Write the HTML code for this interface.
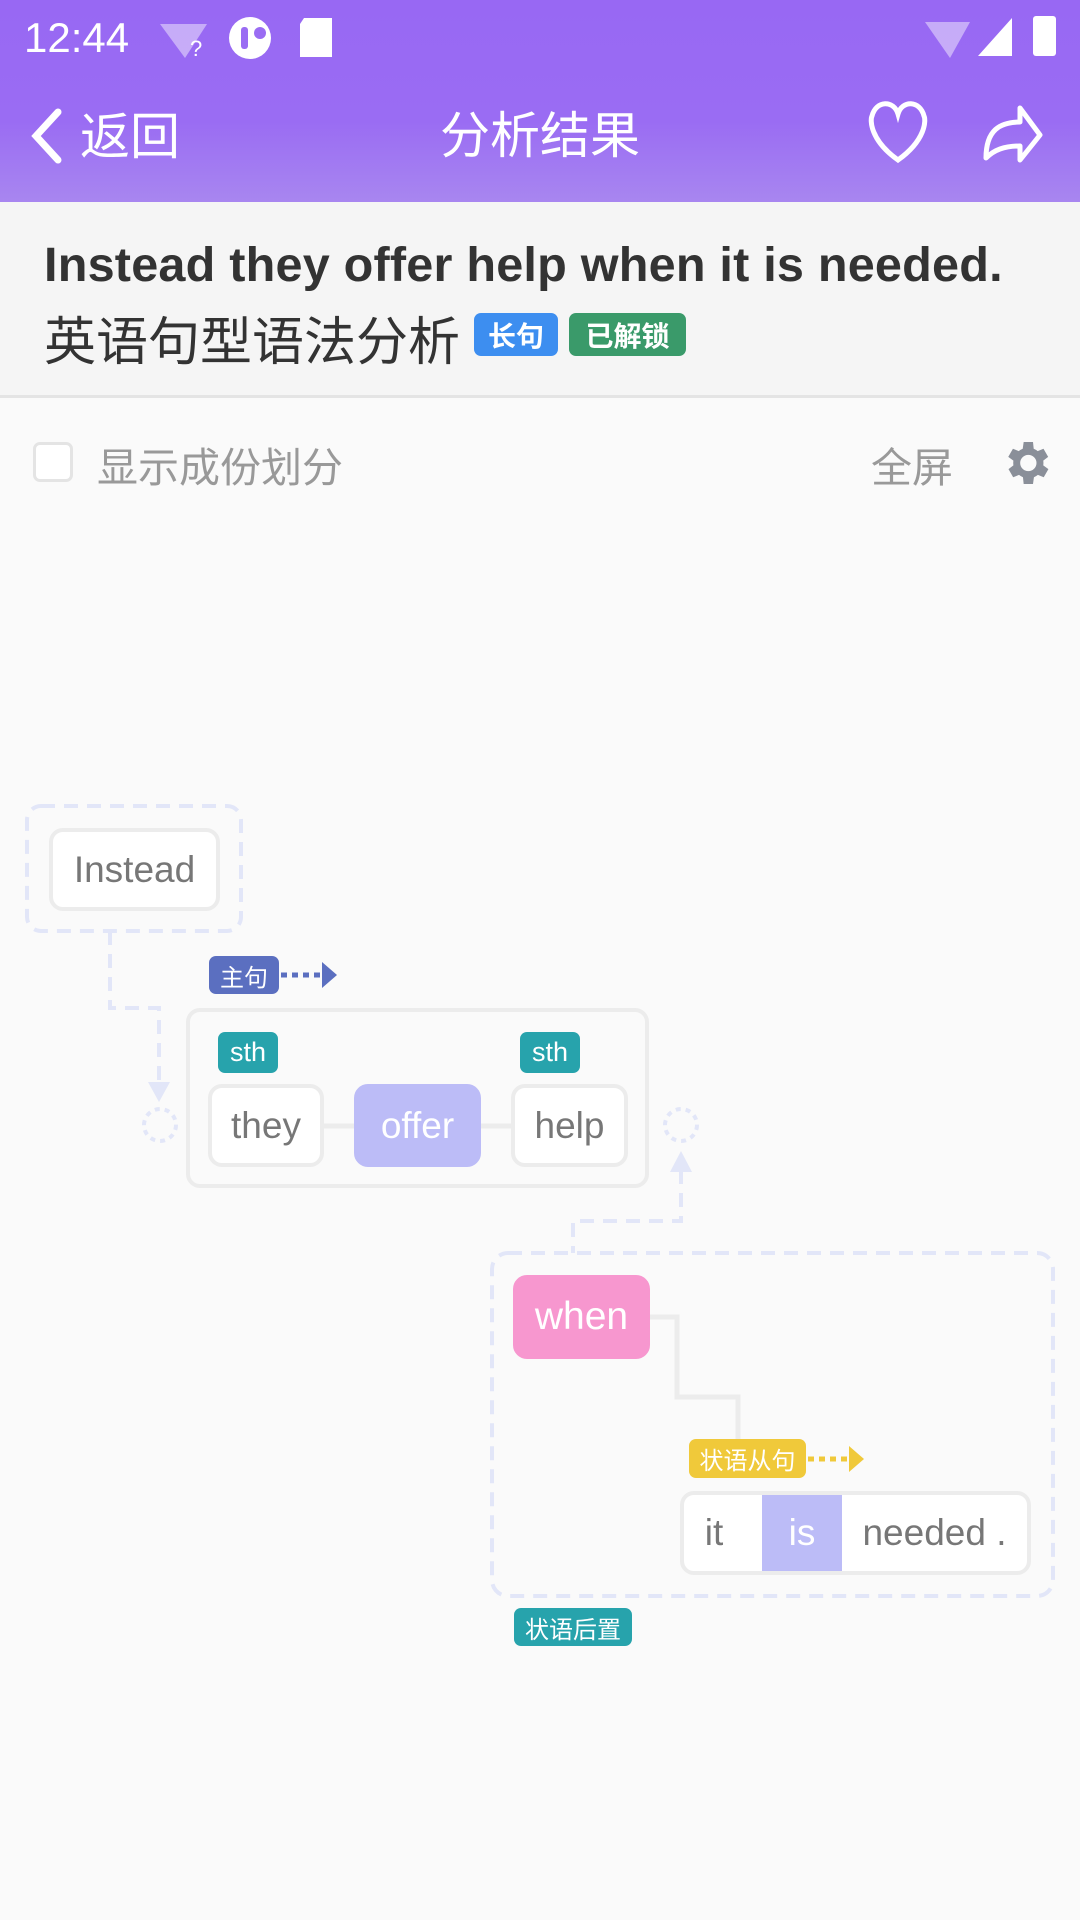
<!DOCTYPE html>
<html><head><meta charset="utf-8"><style>
*{margin:0;padding:0;box-sizing:border-box}
body{width:1080px;height:1920px;background:#fafafa;position:relative;overflow:hidden;font-family:"Liberation Sans","Noto Sans CJK SC",sans-serif}
.a{position:absolute}
.hdr{left:0;top:0;width:1080px;height:202px;background:linear-gradient(#9868f3 0%,#9a6cf3 60%,#a886f0 100%);box-shadow:0 2px 4px rgba(0,0,0,.2)}
.w{color:#fff}
.box{position:absolute;border:4px solid #ececec;border-radius:14px;background:#fff;color:#777;font-size:37px;display:flex;align-items:center;justify-content:center}
.lab{position:absolute;color:#fff;border-radius:7px;display:flex;align-items:center;justify-content:center;font-size:24px}
</style></head><body>
<div class="a hdr"></div>
<div class="a w" style="left:24px;top:14px;font-size:42px">12:44</div>
<svg class="a" style="left:0;top:0" width="1080" height="202">
<path d="M160 24 L207 24 L185 58 Z" fill="#fff" opacity=".45"/>
<text x="190" y="56" font-size="22" fill="#fff" font-family="Liberation Sans">?</text>
<circle cx="250" cy="38" r="21" fill="#fff"/><rect x="241" y="27" width="7" height="22" rx="3" fill="#9a6cf3"/><circle cx="260" cy="33" r="6" fill="#9a6cf3"/>
<path d="M304 18 L332 18 L332 57 L300 57 L300 24 Z" fill="#fff"/>
<path d="M925 22 L970 22 L950 58 Z" fill="#fff" opacity=".45"/>
<path d="M978 56 L1012 18 L1012 56 Z" fill="#fff"/>
<rect x="1033" y="16" width="23" height="40" rx="3" fill="#fff"/>
<path d="M58 112 L36 136 L58 160" stroke="#fff" stroke-width="7" fill="none" stroke-linecap="round"/>
<path d="M898 160 C870 140 870 120 872 116 C876 100 894 100 898 114 C902 100 920 100 924 116 C926 120 926 140 898 160 Z" stroke="#fff" stroke-width="5" fill="none"/>
<path d="M986 158 C986 130 1000 122 1020 122 L1020 108 L1040 135 L1020 160 L1020 146 C1004 146 994 150 986 158 Z" stroke="#fff" stroke-width="5" fill="none" stroke-linejoin="round"/>
</svg>
<div class="a w" style="left:80px;top:97px;font-size:50px">返回</div>
<div class="a w" style="left:0;width:1080px;text-align:center;top:96px;font-size:50px">分析结果</div>
<div class="a" style="left:0;top:202px;width:1080px;height:196px;background:#f5f5f5;border-bottom:3px solid #e4e4e4"></div>
<div class="a" style="left:44px;top:237px;font-size:48.6px;font-weight:bold;color:#333;letter-spacing:0.2px">Instead they offer help when it is needed.</div>
<div class="a" style="left:44px;top:300px;font-size:52px;color:#333">英语句型语法分析</div>
<div class="lab" style="left:474px;top:313px;width:84px;height:43px;background:#3d8ef0;font-size:28px;font-weight:bold">长句</div>
<div class="lab" style="left:569px;top:313px;width:117px;height:43px;background:#3a9a6a;font-size:28px;font-weight:bold">已解锁</div>
<div class="a" style="left:33px;top:442px;width:40px;height:40px;border:3px solid #e4e4e4;border-radius:7px;background:#fff"></div>
<div class="a" style="left:97px;top:434px;font-size:41px;color:#999">显示成份划分</div>
<div class="a" style="left:871px;top:434px;font-size:41px;color:#999">全屏</div>
<svg class="a" style="left:998px;top:435px" width="56" height="56" viewBox="0 0 24 24"><path fill="#8a8f99" d="M19.4 13a7.5 7.5 0 000-2l2.1-1.6-2-3.5-2.5 1a7 7 0 00-1.7-1L15 3h-4l-.4 2.9a7 7 0 00-1.7 1l-2.5-1-2 3.5L6.6 11a7.5 7.5 0 000 2l-2.1 1.6 2 3.5 2.5-1a7 7 0 001.7 1L11 21h4l.4-2.9a7 7 0 001.7-1l2.5 1 2-3.5zM13 15.5a3.5 3.5 0 110-7 3.5 3.5 0 010 7z"/></svg>

<svg class="a" style="left:0;top:0" width="1080" height="1920">
<g fill="none" stroke="#e2e6f8" stroke-width="4" stroke-dasharray="14 9">
<rect x="27" y="806" width="214" height="125" rx="14"/>
<path d="M110 931 V1008 H159 V1086"/>
<path d="M681 1170 V1221 H573 V1253"/>
<rect x="492" y="1253" width="561" height="343" rx="16"/>
</g>
<path d="M148 1082 L170 1082 L159 1102 Z" fill="#e2e6f8"/>
<path d="M670 1172 L692 1172 L681 1151 Z" fill="#e2e6f8"/>
<circle cx="160" cy="1125" r="16" fill="none" stroke="#e2e6f8" stroke-width="4" stroke-dasharray="5 5"/>
<circle cx="681" cy="1125" r="16" fill="none" stroke="#e2e6f8" stroke-width="4" stroke-dasharray="5 5"/>
<path d="M281 975 H322" stroke="#5b6fc0" stroke-width="5" stroke-dasharray="6 5"/>
<path d="M322 962 L337 975 L322 988 Z" fill="#5b6fc0"/>
<path d="M808 1459 H849" stroke="#f0c93a" stroke-width="5" stroke-dasharray="6 5"/>
<path d="M849 1446 L864 1459 L849 1472 Z" fill="#f0c93a"/>
<path d="M324 1126 H354 M481 1126 H511" stroke="#ececec" stroke-width="5"/>
<path d="M650 1317 H677 V1397 H738 V1440" stroke="#ececec" stroke-width="5" fill="none"/>
</svg>
<div class="box" style="left:49px;top:828px;width:171px;height:83px">Instead</div>
<div class="lab" style="left:209px;top:956px;width:70px;height:38px;background:#5b6fc0">主句</div>
<div class="a" style="left:186px;top:1008px;width:463px;height:180px;border:4px solid #ececec;border-radius:14px"></div>
<div class="lab" style="left:218px;top:1032px;width:60px;height:41px;background:#27a3ac;font-size:27px">sth</div>
<div class="lab" style="left:520px;top:1032px;width:60px;height:41px;background:#27a3ac;font-size:27px">sth</div>
<div class="box" style="left:208px;top:1084px;width:116px;height:83px">they</div>
<div class="box" style="left:354px;top:1084px;width:127px;height:83px;background:#bcbcf7;border-color:#bcbcf7;color:#fff">offer</div>
<div class="box" style="left:511px;top:1084px;width:117px;height:83px">help</div>
<div class="box" style="left:513px;top:1275px;width:137px;height:84px;background:#f797cf;border-color:#f797cf;color:#fff;font-size:39px">when</div>
<div class="lab" style="left:689px;top:1439px;width:117px;height:39px;background:#f0c93a">状语从句</div>
<div class="box" style="left:680px;top:1491px;width:351px;height:84px;justify-content:flex-start"></div>
<div class="a" style="left:684px;top:1495px;width:60px;height:76px;color:#777;font-size:37px;display:flex;align-items:center;justify-content:center">it</div>
<div class="a" style="left:762px;top:1495px;width:80px;height:76px;background:#bcbcf7;color:#fff;font-size:37px;display:flex;align-items:center;justify-content:center">is</div>
<div class="a" style="left:842px;top:1495px;width:185px;height:76px;color:#777;font-size:37px;display:flex;align-items:center;justify-content:center">needed .</div>
<div class="lab" style="left:514px;top:1608px;width:118px;height:38px;background:#27a3ac">状语后置</div>
</body></html>
